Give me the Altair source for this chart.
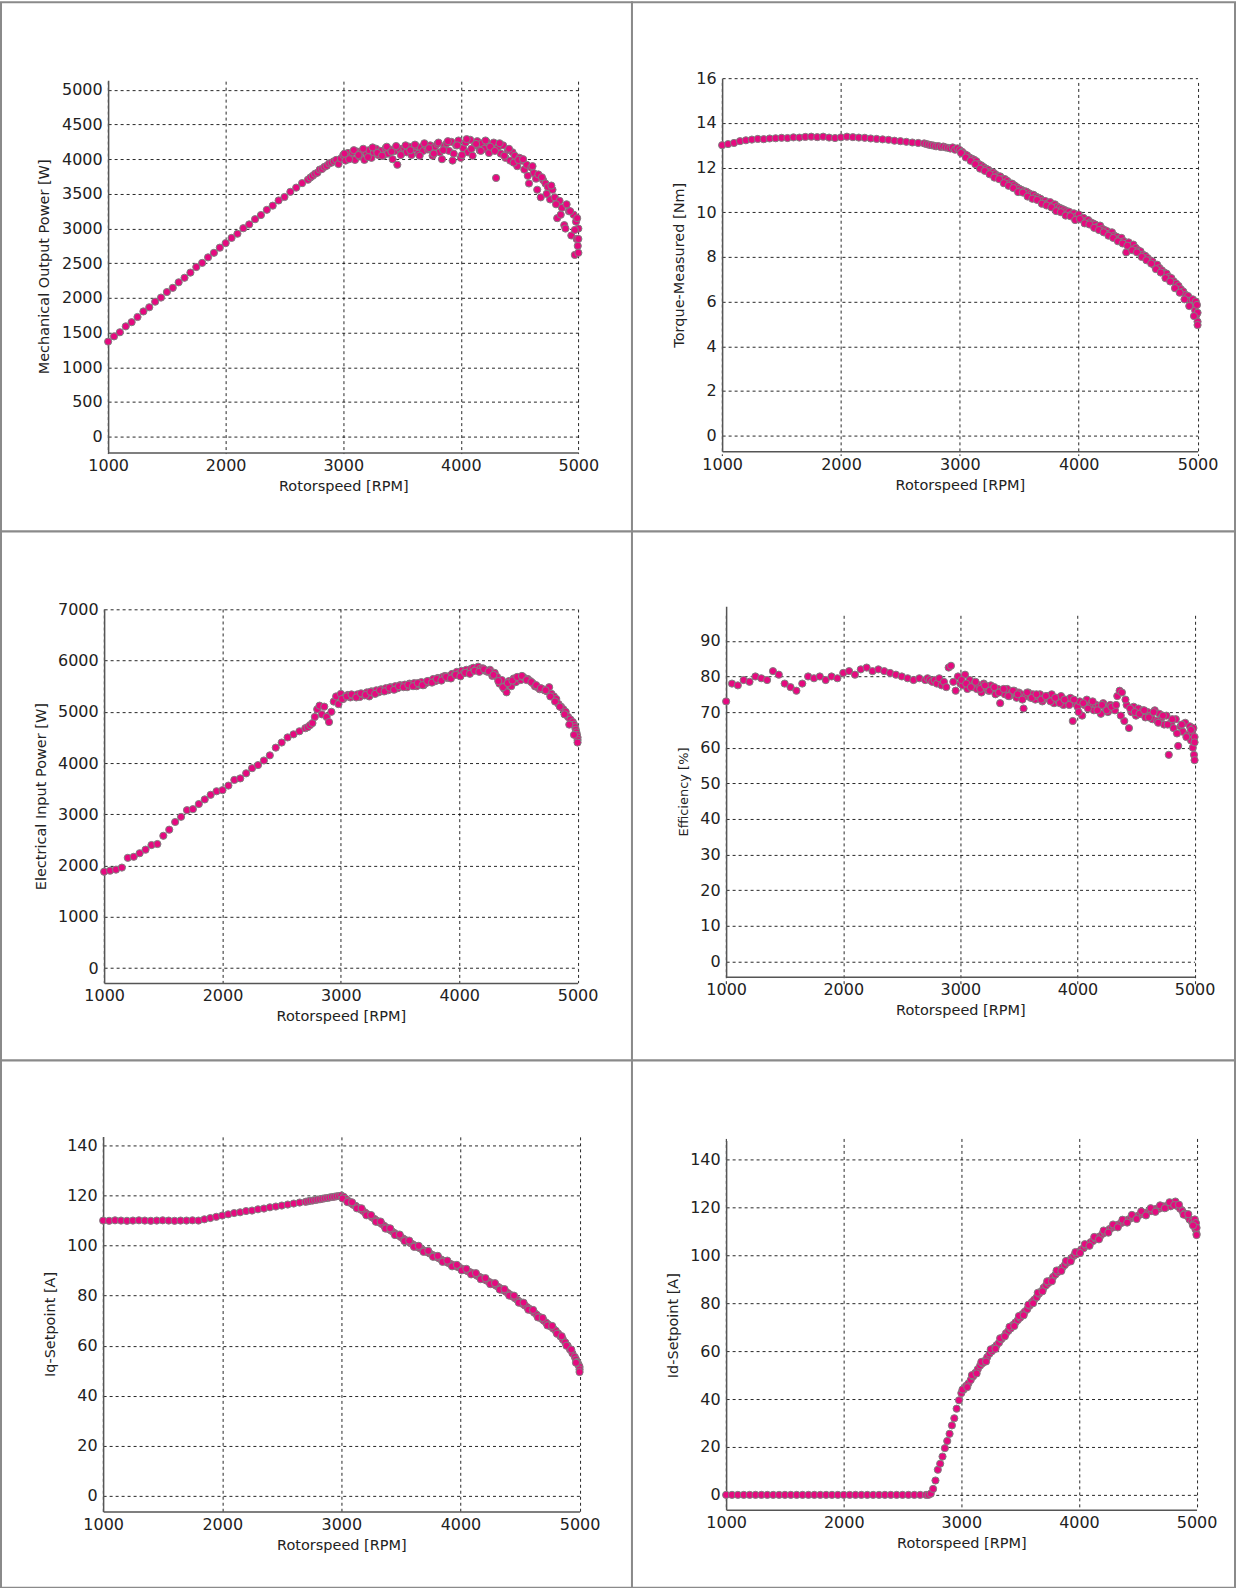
import altair as alt
import pandas as pd

# ---------------- data ----------------
SPEED_LOW = [1000, 1050, 1100, 1150, 1200, 1250, 1300, 1350, 1400, 1450,
             1500, 1550, 1600, 1650, 1700, 1750, 1800, 1850, 1900, 1950,
             2000, 2050, 2100, 2150, 2200, 2250, 2300, 2350, 2400, 2450,
             2500, 2550, 2600, 2650, 2700]
SPEED_HIGH = [2720, 2740, 2760, 2780, 2800, 2820, 2840, 2860, 2880, 2900,
              2920, 2940, 2960, 2980, 3000, 3020, 3040, 3060, 3080, 3100,
              3120, 3140, 3160, 3180, 3200, 3220, 3240, 3260, 3280, 3300,
              3320, 3340, 3360, 3380, 3400, 3420, 3440, 3460, 3480, 3500,
              3520, 3540, 3560, 3580, 3600, 3620, 3640, 3660, 3680, 3700,
              3720, 3740, 3760, 3780, 3800, 3820, 3840, 3860, 3880, 3900,
              3920, 3940, 3960, 3980, 4000, 4020, 4040, 4060, 4080, 4100,
              4120, 4140, 4160, 4180, 4200, 4220, 4240, 4260, 4280, 4300,
              4320, 4340, 4360, 4380, 4400, 4420, 4440, 4460, 4480, 4500,
              4520, 4540, 4560, 4580, 4600, 4620, 4640, 4660, 4680, 4700,
              4720, 4740, 4760, 4780, 4800, 4820, 4840, 4860, 4880, 4900,
              4920, 4940, 4960, 4970, 4980, 4985, 4990, 4995, 5000, 5000, 5000]
SPEED_EXTRA = [3010, 3050, 3090, 3130, 3170, 3210, 3250, 3290, 3330, 3370,
               3410, 3450, 3490, 3530, 3570, 3610, 3650, 3690, 3730, 3770,
               3810, 3850, 3890, 3930, 3970, 4010, 4050, 4090, 4130, 4170,
               4210, 4250, 4290, 4330, 4370, 4410, 4450, 4490, 4530, 4570,
               4610, 4650, 4690, 4730, 4770, 4810, 4850, 4890, 4930, 4970]

MECH_POWER_LOW = [1370, 1445, 1505, 1590, 1650, 1725, 1805, 1865, 1945, 2005,
                  2085, 2145, 2225, 2290, 2365, 2445, 2505, 2585, 2650, 2725,
                  2790, 2865, 2925, 3005, 3060, 3135, 3195, 3270, 3330, 3405,
                  3455, 3530, 3590, 3655, 3705]
MECH_POWER_HIGH = [3735, 3760, 3790, 3805, 3850, 3860, 3890, 3905, 3940, 3950,
                   3970, 3990, 3930, 4010, 4060, 3980, 4090, 4030, 4100, 3990,
                   4110, 4040, 4120, 3990, 4080, 4130, 4020, 4100, 4150, 4060,
                   4120, 4050, 4160, 4080, 4140, 4000, 4120, 3920, 4150, 4090,
                   4160, 4100, 4180, 4060, 4150, 4190, 4080, 4170, 4120, 4200,
                   4140, 4200, 4050, 4180, 4220, 4100, 4000, 4190, 4230, 4120,
                   4250, 4080, 4200, 4270, 4020, 4160, 4240, 4100, 4280, 4050,
                   4200, 4260, 4130, 4230, 4150, 4250, 4090, 4200, 4240, 3730,
                   4180, 4080, 4200, 4020, 4130, 3980, 4100, 4050, 3900, 4020,
                   3980, 3850, 3920, 3650, 3880, 3800, 3720, 3780, 3450, 3700,
                   3650, 3600, 3420, 3560, 3450, 3150, 3400, 3300, 3050, 3350,
                   3250, 2900, 3200, 2620, 3100, 2850, 3150, 2750, 3000, 2650, 2850]
MECH_POWER_EXTRA = [4080, 4000, 4130, 4060, 4150, 4030, 4170, 4090, 4050, 4180,
                    4110, 4190, 4060, 4200, 4130, 4210, 4050, 4230, 4160, 4080,
                    4240, 4130, 4260, 3980, 4200, 4060, 4290, 4150, 4220, 4120,
                    4270, 4180, 4120, 4230, 4050, 4150, 3950, 3990, 4000, 3760,
                    3900, 3560, 3740, 3500, 3620, 3350, 3200, 3000, 3250, 2980]

TORQUE_LOW = [13.00, 13.05, 13.10, 13.18, 13.22, 13.25, 13.28, 13.27, 13.30, 13.31,
              13.33, 13.32, 13.35, 13.34, 13.37, 13.38, 13.36, 13.38, 13.34, 13.32,
              13.35, 13.38, 13.36, 13.34, 13.33, 13.30, 13.28, 13.26, 13.24, 13.20,
              13.18, 13.15, 13.12, 13.10, 13.08]
TORQUE_HIGH = [13.05, 13.02, 13.00, 12.98, 12.95, 12.96, 12.92, 12.94, 12.90, 12.88,
               12.85, 12.90, 12.80, 12.86, 12.78, 12.70, 12.60, 12.55, 12.45, 12.40,
               12.35, 12.28, 12.15, 12.10, 12.02, 11.95, 11.90, 11.80, 11.78, 11.70,
               11.62, 11.60, 11.50, 11.48, 11.40, 11.30, 11.28, 11.20, 11.12, 11.05,
               11.00, 10.95, 10.92, 10.85, 10.80, 10.78, 10.70, 10.65, 10.60, 10.52,
               10.50, 10.40, 10.45, 10.30, 10.35, 10.25, 10.20, 10.15, 10.10, 10.05,
               10.02, 9.90, 9.95, 9.80, 9.90, 9.70, 9.75, 9.60, 9.65, 9.55,
               9.50, 9.45, 9.35, 9.40, 9.25, 9.20, 9.15, 9.05, 9.10, 8.95,
               8.90, 8.80, 8.85, 8.70, 8.20, 8.65, 8.50, 8.55, 8.40, 8.30,
               8.25, 8.10, 8.05, 7.95, 7.85, 7.80, 7.60, 7.65, 7.50, 7.40,
               7.30, 7.25, 7.10, 7.05, 6.90, 6.80, 6.70, 6.55, 6.45, 6.30,
               6.25, 6.05, 6.10, 5.80, 5.60, 6.00, 5.40, 5.85, 5.10, 5.50, 4.95]
TORQUE_EXTRA = [12.65, 12.45, 12.30, 12.15, 11.95, 11.85, 11.70, 11.55, 11.48, 11.30,
                11.18, 11.08, 10.90, 10.88, 10.70, 10.60, 10.55, 10.38, 10.30, 10.22,
                10.05, 10.00, 9.85, 9.82, 9.65, 9.70, 9.50, 9.45, 9.30, 9.20,
                9.10, 8.95, 8.85, 8.70, 8.60, 8.50, 8.30, 8.20, 8.00, 7.85,
                7.70, 7.45, 7.30, 7.05, 6.90, 6.60, 6.40, 6.10, 5.80, 5.35]

ELEC_POWER_LOW = [1880, 1900, 1920, 1960, 2150, 2170, 2240, 2310, 2400, 2420,
                  2580, 2700, 2850, 2950, 3080, 3100, 3200, 3290, 3380, 3450,
                  3470, 3560, 3670, 3700, 3800, 3900, 3960, 4050, 4150, 4300,
                  4400, 4500, 4560, 4620, 4680]
ELEC_POWER_HIGH = [4700, 4740, 4780, 4900, 5050, 5120, 4950, 5100, 4900, 4800,
                   5000, 5200, 5300, 5150, 5350, 5250, 5300, 5330, 5280, 5320,
                   5300, 5340, 5290, 5350, 5320, 5380, 5300, 5400, 5360, 5420,
                   5380, 5440, 5400, 5460, 5420, 5480, 5440, 5500, 5460, 5520,
                   5500, 5530, 5480, 5550, 5520, 5560, 5500, 5540, 5580, 5520,
                   5560, 5600, 5580, 5640, 5600, 5660, 5620, 5680, 5700, 5660,
                   5700, 5740, 5720, 5780, 5750, 5800, 5760, 5820, 5780, 5840,
                   5860, 5820, 5880, 5840, 5850, 5800, 5780, 5820, 5700, 5760,
                   5680, 5550, 5620, 5450, 5380, 5600, 5500, 5650, 5580, 5660,
                   5620, 5680, 5650, 5640, 5600, 5560, 5500, 5480, 5440, 5450,
                   5420, 5400, 5480, 5350, 5300, 5250, 5150, 5100, 5050, 5000,
                   4900, 4850, 4800, 4750, 4700, 4650, 4600, 4550, 4500, 4450, 4400]
ELEC_POWER_EXTRA = [5250, 5300, 5340, 5280, 5360, 5330, 5390, 5350, 5420, 5400,
                    5470, 5430, 5500, 5480, 5530, 5500, 5560, 5520, 5600, 5570,
                    5640, 5610, 5680, 5650, 5720, 5690, 5760, 5740, 5800, 5780,
                    5830, 5790, 5720, 5600, 5480, 5560, 5610, 5680, 5700, 5620,
                    5580, 5520, 5460, 5420, 5300, 5200, 5100, 4950, 4750, 4550]

EFFICIENCY_LOW = [73.0, 78.0, 77.5, 79.0, 78.5, 80.0, 79.5, 79.0, 81.5, 80.5,
                  78.0, 77.0, 76.0, 78.0, 80.0, 79.5, 80.0, 79.0, 80.0, 79.5,
                  81.0, 81.5, 80.5, 82.0, 82.5, 81.5, 82.0, 81.5, 81.0, 80.5,
                  80.0, 79.5, 79.0, 79.5, 79.0]
EFFICIENCY_HIGH = [79.5, 79.0, 78.5, 79.0, 78.0, 79.5, 77.5, 78.5, 77.0, 82.5,
                   83.0, 78.5, 76.0, 80.0, 78.0, 77.5, 80.5, 76.5, 79.0, 77.0,
                   78.0, 76.5, 77.5, 75.5, 78.0, 77.0, 76.0, 77.5, 76.5, 75.0,
                   76.5, 72.5, 76.0, 75.0, 76.5, 74.5, 75.5, 76.0, 74.0, 75.5,
                   75.0, 71.0, 74.5, 75.5, 74.0, 75.0, 73.5, 74.5, 75.0, 73.0,
                   74.0, 74.5, 73.5, 75.0, 72.5, 74.0, 73.0, 74.5, 72.0, 73.5,
                   73.0, 74.0, 67.5, 72.5, 71.5, 73.0, 69.0, 72.0, 73.5, 71.0,
                   72.5, 70.5, 72.0, 71.5, 69.5, 72.5, 71.0, 70.0, 72.0, 71.5,
                   70.5, 74.5, 76.0, 75.5, 67.5, 72.0, 65.5, 70.0, 71.5, 69.0,
                   71.0, 69.5, 70.5, 68.5, 70.0, 69.0, 68.0, 70.5, 67.5, 69.5,
                   68.5, 66.5, 69.0, 58.0, 67.0, 65.5, 68.0, 60.5, 66.0, 64.5,
                   67.0, 63.5, 66.0, 62.0, 64.0, 60.0, 65.5, 58.0, 63.0, 56.5, 61.5]
EFFICIENCY_EXTRA = [79.0, 78.0, 77.0, 78.5, 76.5, 77.5, 76.0, 77.0, 75.5, 76.5,
                    74.5, 76.0, 75.0, 73.5, 75.5, 74.0, 75.0, 73.5, 74.5, 73.0,
                    74.0, 72.5, 73.5, 72.0, 73.5, 70.0, 72.5, 71.0, 73.0, 70.5,
                    72.0, 70.5, 71.5, 72.0, 69.0, 73.5, 71.0, 70.0, 69.5, 70.5,
                    68.5, 70.0, 67.0, 69.0, 66.5, 68.0, 64.0, 66.5, 63.0, 65.0]

IQ_LOW = [110.0, 109.9, 110.1, 110.0, 109.9, 110.0, 110.1, 110.0, 109.9, 110.0,
          110.1, 110.0, 109.9, 110.0, 110.0, 110.1, 110.0, 110.5, 111.0, 111.5,
          112.0, 112.5, 113.0, 113.3, 113.8, 114.0, 114.5, 114.8, 115.3, 115.6,
          116.0, 116.4, 116.8, 117.2, 117.5]
IQ_HIGH = [117.7, 117.9, 118.0, 118.2, 118.4, 118.5, 118.7, 118.9, 119.0, 119.2,
           119.4, 119.5, 119.7, 119.8, 120.0, 119.5, 118.6, 117.8, 117.0, 116.3,
           115.9, 115.2, 114.5, 113.9, 113.2, 112.5, 111.9, 111.2, 110.6, 109.9,
           109.2, 108.6, 107.9, 107.2, 106.5, 105.9, 105.2, 104.6, 104.0, 103.4,
           102.8, 102.2, 101.6, 101.0, 100.5, 99.9, 99.4, 98.9, 98.4, 97.9,
           97.4, 96.9, 96.4, 95.9, 95.4, 94.9, 94.4, 93.9, 93.5, 93.0,
           92.6, 92.2, 91.8, 91.4, 91.0, 90.6, 90.2, 89.8, 89.4, 89.0,
           88.5, 88.0, 87.5, 87.0, 86.5, 86.0, 85.5, 85.0, 84.5, 84.0,
           83.4, 82.8, 82.2, 81.6, 81.0, 80.3, 79.6, 78.9, 78.2, 77.5,
           76.8, 76.1, 75.4, 74.7, 74.0, 73.2, 72.4, 71.6, 70.8, 70.0,
           69.2, 68.4, 67.6, 66.8, 66.0, 64.9, 63.7, 62.5, 61.3, 60.0,
           58.5, 57.0, 55.5, 54.5, 53.5, 53.0, 52.5, 52.0, 51.5, 50.5, 49.5]
IQ_EXTRA = [118.8, 117.4, 117.3, 114.9, 114.9, 112.1, 112.2, 109.5, 109.6, 106.8,
            106.9, 104.2, 104.4, 101.8, 102.0, 99.5, 99.9, 97.5, 97.9, 95.5,
            95.9, 93.5, 94.0, 91.7, 92.3, 90.1, 90.7, 88.5, 89.0, 86.6,
            87.0, 84.6, 85.0, 82.4, 82.6, 80.0, 80.0, 77.2, 77.2, 74.4,
            74.3, 71.3, 71.1, 68.1, 67.9, 64.8, 63.8, 60.0, 58.5, 53.2]

ID_LOW = [0.0] * 35
ID_HIGH = [0.0, 0.5, 2.5, 6.0, 10.5, 13.0, 16.0, 19.5, 22.5, 25.5,
           29.0, 32.0, 36.0, 39.5, 42.5, 44.0, 45.5, 46.5, 48.0, 49.5,
           51.0, 52.5, 54.0, 55.0, 56.0, 57.5, 59.0, 60.0, 61.5, 62.5,
           63.5, 65.0, 66.0, 67.5, 68.5, 69.5, 71.0, 72.0, 73.0, 74.0,
           75.5, 76.5, 77.5, 79.0, 80.5, 81.5, 82.5, 84.0, 85.0, 86.5,
           87.5, 88.5, 89.5, 91.0, 92.0, 93.0, 94.0, 95.0, 96.0, 97.0,
           98.0, 99.0, 100.0, 100.5, 101.5, 102.5, 103.0, 104.0, 104.5, 105.5,
           106.0, 107.0, 107.5, 108.0, 109.0, 109.5, 110.0, 111.0, 111.5, 112.0,
           112.5, 113.0, 113.5, 114.0, 114.5, 115.0, 115.5, 116.0, 116.0, 116.5,
           117.0, 117.5, 117.5, 118.0, 118.5, 118.5, 119.0, 119.5, 119.5, 120.0,
           120.5, 120.0, 121.0, 120.5, 121.5, 122.5, 120.5, 119.5, 118.5, 117.5,
           116.5, 115.0, 114.0, 113.0, 112.5, 115.0, 111.0, 113.5, 109.0, 111.5, 108.5]
ID_EXTRA = [44.0, 45.0, 50.0, 50.7, 55.5, 55.7, 60.8, 61.0, 65.4, 66.2,
            70.2, 70.5, 74.7, 75.0, 79.4, 80.0, 84.4, 85.0, 89.2, 89.2,
            93.7, 93.5, 97.7, 97.5, 101.4, 101.0, 104.7, 104.0, 107.7, 106.7,
            110.4, 109.5, 112.9, 111.7, 114.9, 113.7, 116.9, 115.2, 118.4, 116.7,
            119.7, 118.2, 120.9, 119.7, 122.2, 121.0, 121.2, 117.0, 117.2, 112.5]

X_TICKS = [1000, 2000, 3000, 4000, 5000]
X_TITLE = "Rotorspeed [RPM]"

MAGENTA = "#E5097F"
OUTLINE = "#7f7f7f"

SPEEDS = SPEED_LOW + SPEED_HIGH + SPEED_EXTRA


def panel(values, ytitle, yticks, ydom, xr, yr, xoff, yoff, w, h, tx, tsize=14.5):
    df = pd.DataFrame({"rpm": SPEEDS, "val": values})
    return alt.Chart(df).mark_circle(
        size=52, fill=MAGENTA, stroke=OUTLINE, strokeWidth=1, opacity=1
    ).encode(
        x=alt.X("rpm:Q",
                scale=alt.Scale(domain=[1000, 5000], range=xr, nice=False, zero=False),
                axis=alt.Axis(values=X_TICKS, title=X_TITLE, offset=xoff, format="d",
                              titleY=34, titleBaseline="middle", labelPadding=5)),
        y=alt.Y("val:Q",
                scale=alt.Scale(domain=ydom, range=yr, nice=False, zero=False),
                axis=alt.Axis(values=yticks, title=ytitle, offset=yoff, format="d",
                              titleX=tx, titleBaseline="middle", titleFontSize=tsize,
                              labelPadding=6)),
    ).properties(width=w, height=h)


p1 = panel(MECH_POWER_LOW + MECH_POWER_HIGH + MECH_POWER_EXTRA, "Mechanical Output Power [W]",
           list(range(0, 5001, 500)), [-230, 5140],
           [107.3, 578.3], [451, 78], -79, -107.3, 632, 530, -63.7)
p2 = panel(TORQUE_LOW + TORQUE_HIGH + TORQUE_EXTRA, "Torque-Measured [Nm]",
           list(range(0, 17, 2)), [-0.7, 16],
           [90.3, 566.5], [449.7, 76], -80.3, -90.3, 604, 530, -42.5)
p3 = panel(ELEC_POWER_LOW + ELEC_POWER_HIGH + ELEC_POWER_EXTRA, "Electrical Input Power [W]",
           list(range(0, 7001, 1000)), [-292, 7000],
           [103.3, 577.5], [452.3, 78], -77.7, -103.3, 632, 530, -62.8)
p4 = panel(EFFICIENCY_LOW + EFFICIENCY_HIGH + EFFICIENCY_EXTRA, "Efficiency [%]",
           list(range(0, 91, 10)), [-4.3, 99.7],
           [94.3, 563.5], [446, 75], -84, -94.3, 604, 530, -42.3, tsize=13)
p5 = panel(IQ_LOW + IQ_HIGH + IQ_EXTRA, "Iq-Setpoint [A]",
           list(range(0, 141, 20)), [-6.2, 143.6],
           [102.3, 579.5], [451.6, 76], -76.4, -102.3, 632, 528, -52.7)
p6 = panel(ID_LOW + ID_HIGH + ID_EXTRA, "Id-Setpoint [A]",
           list(range(0, 141, 20)), [-6.25, 148],
           [94.3, 565.5], [450, 80], -78, -94.3, 604, 528, -52.6)

chart = alt.concat(p1, p2, p3, p4, p5, p6, columns=2, spacing=0, bounds="flush").properties(
    padding=0, background="white"
).configure_view(
    stroke="#8a8a8a", strokeWidth=2, fill="white"
).configure_axis(
    grid=True, gridColor="#000000", gridDash=[3, 3], gridWidth=1, gridOpacity=0.85,
    domainColor="#555555", domainWidth=1.5, ticks=False,
    labelFont="DejaVu Sans", labelFontSize=16, labelColor="#222222",
    labelFlush=False, labelOverlap=False,
    titleFont="DejaVu Sans", titleFontSize=14.5, titleFontWeight="normal",
    titleColor="#222222",
).configure_concat(spacing=0)

chart.save("out.html", embed_options={"renderer": "svg", "actions": False})
